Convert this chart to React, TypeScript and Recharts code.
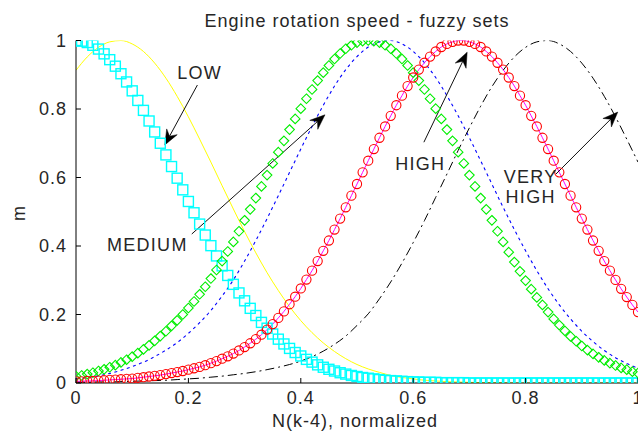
import React from 'react';
import { LineChart, Line, XAxis, YAxis, ReferenceLine, ReferenceDot } from 'recharts';

// Normalized rotation speed grid for the marker series (step 0.01)
const xFine = [
  0, 0.01, 0.02, 0.03, 0.04, 0.05, 0.06, 0.07, 0.08, 0.09,
  0.1, 0.11, 0.12, 0.13, 0.14, 0.15, 0.16, 0.17, 0.18, 0.19,
  0.2, 0.21, 0.22, 0.23, 0.24, 0.25, 0.26, 0.27, 0.28, 0.29,
  0.3, 0.31, 0.32, 0.33, 0.34, 0.35, 0.36, 0.37, 0.38, 0.39,
  0.4, 0.41, 0.42, 0.43, 0.44, 0.45, 0.46, 0.47, 0.48, 0.49,
  0.5, 0.51, 0.52, 0.53, 0.54, 0.55, 0.56, 0.57, 0.58, 0.59,
  0.6, 0.61, 0.62, 0.63, 0.64, 0.65, 0.66, 0.67, 0.68, 0.69,
  0.7, 0.71, 0.72, 0.73, 0.74, 0.75, 0.76, 0.77, 0.78, 0.79,
  0.8, 0.81, 0.82, 0.83, 0.84, 0.85, 0.86, 0.87, 0.88, 0.89,
  0.9, 0.91, 0.92, 0.93, 0.94, 0.95, 0.96, 0.97, 0.98, 0.99,
  1,
];

// LOW membership (cyan squares)
const lowSet = [
  1, 0.998, 0.994, 0.986, 0.975, 0.961, 0.944, 0.925, 0.903, 0.879,
  0.853, 0.825, 0.796, 0.765, 0.733, 0.7, 0.666, 0.632, 0.598, 0.564,
  0.53, 0.497, 0.464, 0.432, 0.401, 0.371, 0.342, 0.314, 0.288, 0.263,
  0.24, 0.218, 0.197, 0.177, 0.16, 0.143, 0.128, 0.114, 0.101, 0.089,
  0.079, 0.069, 0.061, 0.053, 0.046, 0.04, 0.035, 0.03, 0.026, 0.022,
  0.019, 0.016, 0.014, 0.012, 0.01, 0.008, 0.007, 0.006, 0.005, 0.004,
  0.003, 0.003, 0.002, 0.002, 0.002, 0.001, 0.001, 0.001, 0.001, 0.001,
  0, 0, 0, 0, 0, 0, 0, 0, 0, 0,
  0, 0, 0, 0, 0, 0, 0, 0, 0, 0,
  0, 0, 0, 0, 0, 0, 0, 0, 0, 0,
  0,
];

// MEDIUM membership (green diamonds)
const mediumSet = [
  0.02, 0.022, 0.026, 0.03, 0.035, 0.04, 0.046, 0.052, 0.06, 0.068,
  0.077, 0.087, 0.098, 0.11, 0.123, 0.137, 0.151, 0.167, 0.183, 0.2,
  0.219, 0.238, 0.259, 0.281, 0.305, 0.33, 0.356, 0.384, 0.412, 0.443,
  0.475, 0.507, 0.54, 0.574, 0.607, 0.641, 0.674, 0.707, 0.74, 0.771,
  0.801, 0.83, 0.857, 0.883, 0.906, 0.927, 0.946, 0.962, 0.976, 0.986,
  0.994, 0.998, 1, 0.998, 0.994, 0.986, 0.976, 0.962, 0.946, 0.927,
  0.906, 0.883, 0.857, 0.83, 0.801, 0.771, 0.74, 0.707, 0.674, 0.641,
  0.607, 0.574, 0.54, 0.507, 0.475, 0.443, 0.412, 0.382, 0.353, 0.326,
  0.299, 0.274, 0.25, 0.228, 0.207, 0.187, 0.169, 0.152, 0.136, 0.122,
  0.108, 0.096, 0.085, 0.075, 0.066, 0.058, 0.051, 0.044, 0.039, 0.033,
  0.029,
];

// HIGH membership (red circles, magenta trace)
const highSet = [
  0.005, 0.005, 0.006, 0.006, 0.007, 0.008, 0.009, 0.01, 0.011, 0.012,
  0.013, 0.015, 0.017, 0.019, 0.021, 0.023, 0.026, 0.029, 0.032, 0.035,
  0.039, 0.043, 0.047, 0.052, 0.058, 0.064, 0.071, 0.078, 0.086, 0.095,
  0.105, 0.116, 0.128, 0.141, 0.156, 0.172, 0.19, 0.209, 0.23, 0.252,
  0.276, 0.302, 0.328, 0.356, 0.386, 0.416, 0.448, 0.48, 0.513, 0.547,
  0.581, 0.615, 0.649, 0.683, 0.716, 0.749, 0.78, 0.811, 0.839, 0.867,
  0.892, 0.915, 0.935, 0.953, 0.968, 0.981, 0.99, 0.996, 1, 1,
  0.996, 0.99, 0.981, 0.968, 0.953, 0.935, 0.915, 0.892, 0.867, 0.839,
  0.811, 0.78, 0.749, 0.716, 0.683, 0.649, 0.615, 0.581, 0.547, 0.513,
  0.48, 0.448, 0.416, 0.386, 0.356, 0.328, 0.301, 0.275, 0.251, 0.228,
  0.207,
];

// Grid for the plain line traces (step 0.02)
const xCoarse = [
  0, 0.02, 0.04, 0.06, 0.08, 0.1, 0.12, 0.14, 0.16, 0.18,
  0.2, 0.22, 0.24, 0.26, 0.28, 0.3, 0.32, 0.34, 0.36, 0.38,
  0.4, 0.42, 0.44, 0.46, 0.48, 0.5, 0.52, 0.54, 0.56, 0.58,
  0.6, 0.62, 0.64, 0.66, 0.68, 0.7, 0.72, 0.74, 0.76, 0.78,
  0.8, 0.82, 0.84, 0.86, 0.88, 0.9, 0.92, 0.94, 0.96, 0.98,
  1,
];

// Yellow solid trace
const lowLine = [
  0.913, 0.952, 0.98, 0.996, 1, 0.99, 0.968, 0.934, 0.89, 0.837,
  0.777, 0.712, 0.645, 0.576, 0.508, 0.442, 0.38, 0.322, 0.27, 0.223,
  0.182, 0.147, 0.117, 0.092, 0.071, 0.054, 0.041, 0.031, 0.022, 0.016,
  0.012, 0.008, 0.006, 0.004, 0.003, 0.002, 0.001, 0.001, 0.001, 0,
  0, 0, 0, 0, 0, 0, 0, 0, 0, 0,
  0,
];

// Blue dotted trace
const mediumLine = [
  0.012, 0.016, 0.021, 0.028, 0.037, 0.048, 0.061, 0.077, 0.096, 0.118,
  0.145, 0.176, 0.212, 0.254, 0.301, 0.356, 0.416, 0.48, 0.547, 0.615,
  0.683, 0.749, 0.811, 0.867, 0.915, 0.953, 0.981, 0.996, 1, 0.99,
  0.968, 0.935, 0.892, 0.839, 0.78, 0.716, 0.649, 0.581, 0.513, 0.448,
  0.386, 0.328, 0.275, 0.228, 0.187, 0.151, 0.121, 0.095, 0.074, 0.057,
  0.043,
];

// VERY HIGH membership (black dash-dot)
const veryHighLine = [
  0.002, 0.002, 0.003, 0.003, 0.004, 0.005, 0.006, 0.007, 0.008, 0.01,
  0.012, 0.014, 0.017, 0.02, 0.024, 0.028, 0.033, 0.039, 0.046, 0.054,
  0.064, 0.077, 0.093, 0.113, 0.137, 0.168, 0.202, 0.246, 0.295, 0.35,
  0.41, 0.474, 0.542, 0.61, 0.679, 0.745, 0.808, 0.865, 0.913, 0.952,
  0.98, 0.996, 1, 0.99, 0.968, 0.934, 0.89, 0.837, 0.777, 0.712,
  0.645,
];

const axisTicks = [0, 0.2, 0.4, 0.6, 0.8, 1];

const titleText = 'Engine rotation speed - fuzzy sets';
const xLabelText = 'N(k-4), normalized';
const yLabelText = 'm';

// Arrow annotations in data units: label anchor, then arrow tail -> head
const lowNote = { text: ['LOW'], anchor: 'start', at: [0.18, 0.887], from: [0.216, 0.87], to: [0.158, 0.695] };
const mediumNote = { text: ['MEDIUM'], anchor: 'start', at: [0.055, 0.386], from: [0.206, 0.435], to: [0.443, 0.783] };
const highNote = { text: ['HIGH'], anchor: 'start', at: [0.568, 0.622], from: [0.619, 0.703], to: [0.696, 0.966] };
const veryHighNote = { text: ['VERY', 'HIGH'], anchor: 'middle', at: [0.809, 0.584], from: [0.854, 0.61], to: [0.964, 0.791] };
const notes = [lowNote, mediumNote, highNote, veryHighNote];

const fineRows = xFine.map((x, i) => ({ x, low: lowSet[i], medium: mediumSet[i], high: highSet[i] }));
const coarseRows = xCoarse.map((x, i) => ({ x, yellow: lowLine[i], blue: mediumLine[i], veryHigh: veryHighLine[i] }));

const FONT = '"Liberation Sans", Arial, Helvetica, sans-serif';
const TEXT = '#262626';

const SquareDot = (p: any) => {
  if (p.cx == null || p.cy == null) return <g key={`sq${p.index}`} />;
  return (
    <rect key={`sq${p.index}`} x={p.cx - 5} y={p.cy - 5} width={10} height={10}
      fill="none" stroke="#00ffff" strokeWidth={1.4} />
  );
};

const DiamondDot = (p: any) => {
  if (p.cx == null || p.cy == null) return <g key={`dm${p.index}`} />;
  const r = 4.8;
  return (
    <polygon key={`dm${p.index}`}
      points={`${p.cx},${p.cy - r} ${p.cx + r},${p.cy} ${p.cx},${p.cy + r} ${p.cx - r},${p.cy}`}
      fill="none" stroke="#00ee00" strokeWidth={1.1} />
  );
};

const CircleDot = (p: any) => {
  if (p.cx == null || p.cy == null) return <g key={`ci${p.index}`} />;
  return <circle key={`ci${p.index}`} cx={p.cx} cy={p.cy} r={4.6} fill="none" stroke="#ff0000" strokeWidth={1.1} />;
};

const XTick = (p: any) => {
  const { x, y, payload } = p;
  return (
    <g>
      <line x1={x} y1={y} x2={x} y2={y - 5} stroke="#000" strokeWidth={1} />
      <text x={x} y={y + 20.5} textAnchor="middle" fontFamily={FONT} fontSize={18}
        letterSpacing={1} fill={TEXT}>{String(payload.value)}</text>
    </g>
  );
};

const YTick = (p: any) => {
  const { x, y, payload } = p;
  return (
    <g>
      <line x1={x} y1={y} x2={x + 5} y2={y} stroke="#000" strokeWidth={1} />
      <text x={x - 9} y={y + 6.4} textAnchor="end" fontFamily={FONT} fontSize={18}
        letterSpacing={1} fill={TEXT}>{String(payload.value)}</text>
    </g>
  );
};

const ArrowShape = (p: any) => {
  const { x1, y1, x2, y2 } = p;
  const dx = x2 - x1;
  const dy = y2 - y1;
  const len = Math.hypot(dx, dy) || 1;
  const ux = dx / len;
  const uy = dy / len;
  const px = -uy;
  const py = ux;
  const headLen = 15;
  const halfW = 6;
  const notch = 10;
  const bx = x2 - ux * headLen;
  const by = y2 - uy * headLen;
  const nx = x2 - ux * notch;
  const ny = y2 - uy * notch;
  return (
    <g>
      <line x1={x1} y1={y1} x2={nx} y2={ny} stroke="#111" strokeWidth={1} />
      <polygon
        points={`${x2},${y2} ${bx + px * halfW},${by + py * halfW} ${nx},${ny} ${bx - px * halfW},${by - py * halfW}`}
        fill="#000" stroke="#000" strokeWidth={0.5} />
    </g>
  );
};

const makeLabel = (lines: string[], anchor: string) => (p: any) => (
  <text x={p.cx} y={p.cy} textAnchor={anchor} fontFamily={FONT} fontSize={18} letterSpacing={1.3} fill={TEXT}>
    {lines.map((t, i) => (
      <tspan key={t + i} x={p.cx} dy={i === 0 ? 0 : 20}>{t}</tspan>
    ))}
  </text>
);

export default function App() {
  return (
    <div style={{ position: 'fixed', left: 0, top: 0, width: 638, height: 432, overflow: 'hidden', background: '#fff' }}>
      <LineChart width={638} height={432} margin={{ top: 40.5, right: 0, bottom: 0, left: 0 }}>
        <XAxis type="number" dataKey="x" domain={[0, 1]} ticks={axisTicks} interval={0}
          allowDataOverflow height={49} tickSize={0} tickMargin={0} tickLine={false}
          axisLine={{ stroke: '#000', strokeWidth: 1 }} tick={XTick} />
        <YAxis type="number" domain={[0, 1]} ticks={axisTicks} interval={0}
          allowDataOverflow width={76} tickSize={0} tickMargin={0} tickLine={false}
          axisLine={{ stroke: '#000', strokeWidth: 1 }} tick={YTick} />

        <Line data={fineRows} dataKey="low" stroke="none" dot={SquareDot} activeDot={false}
          isAnimationActive={false} legendType="none" />
        <Line data={coarseRows} dataKey="yellow" type="monotone" stroke="#ffff00" strokeWidth={1}
          dot={false} activeDot={false} isAnimationActive={false} legendType="none" />
        <Line data={fineRows} dataKey="medium" stroke="none" dot={DiamondDot} activeDot={false}
          isAnimationActive={false} legendType="none" />
        <Line data={coarseRows} dataKey="blue" type="monotone" stroke="#0000ff" strokeWidth={1.1}
          strokeDasharray="3 3.5" dot={false} activeDot={false} isAnimationActive={false} legendType="none" />
        <Line data={fineRows} dataKey="high" stroke="none" dot={CircleDot} activeDot={false}
          isAnimationActive={false} legendType="none" />
        <Line data={fineRows} dataKey="high" type="monotone" stroke="#ff00ff" strokeWidth={1}
          dot={false} activeDot={false} isAnimationActive={false} legendType="none" />
        <Line data={coarseRows} dataKey="veryHigh" type="monotone" stroke="#000" strokeWidth={1}
          strokeDasharray="9 4 2 4" dot={false} activeDot={false} isAnimationActive={false} legendType="none" />

        {notes.map((n, i) => (
          <ReferenceLine key={`arrow${i}`} ifOverflow="visible"
            segment={[{ x: n.from[0], y: n.from[1] }, { x: n.to[0], y: n.to[1] }]}
            shape={ArrowShape} />
        ))}
        {notes.map((n, i) => (
          <ReferenceDot key={`label${i}`} x={n.at[0]} y={n.at[1]} r={0} ifOverflow="visible"
            shape={makeLabel(n.text, n.anchor)} />
        ))}
      </LineChart>

      <svg width={638} height={432} style={{ position: 'absolute', left: 0, top: 0, pointerEvents: 'none' }}>
        <text x={357} y={26.7} textAnchor="middle" fontFamily={FONT} fontSize={18} letterSpacing={1} fill={TEXT}>
          {titleText}
        </text>
        <text x={355} y={426.5} textAnchor="middle" fontFamily={FONT} fontSize={18} letterSpacing={1} fill={TEXT}>
          {xLabelText}
        </text>
        <text x={25} y={213} textAnchor="middle" transform="rotate(-90, 25, 213)" fontFamily={FONT}
          fontSize={18} letterSpacing={1} fill={TEXT}>
          {yLabelText}
        </text>
      </svg>
    </div>
  );
}
